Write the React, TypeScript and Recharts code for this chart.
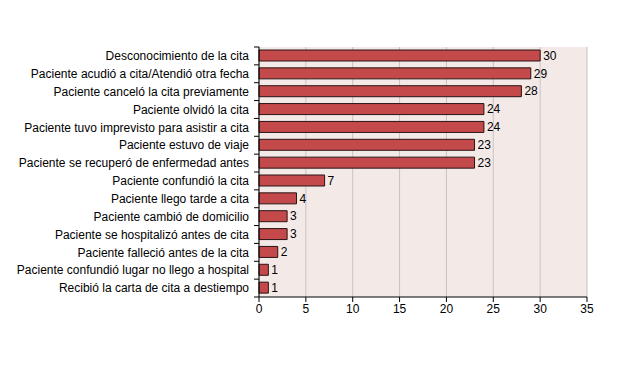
import React from 'react';
import { BarChart, Bar, XAxis, YAxis, CartesianGrid, LabelList } from 'recharts';

const categories = [
  'Desconocimiento de la cita',
  'Paciente acudió a cita/Atendió otra fecha',
  'Paciente canceló la cita previamente',
  'Paciente olvidó la cita',
  'Paciente tuvo imprevisto para asistir a cita',
  'Paciente estuvo de viaje',
  'Paciente se recuperó de enfermedad antes',
  'Paciente confundió la cita',
  'Paciente llego tarde a cita',
  'Paciente cambió de domicilio',
  'Paciente se hospitalizó antes de cita',
  'Paciente falleció antes de la cita',
  'Paciente confundió lugar no llego a hospital',
  'Recibió la carta de cita a destiempo',
];
const values = [30, 29, 28, 24, 24, 23, 23, 7, 4, 3, 3, 2, 1, 1];
const xTicks = [0, 5, 10, 15, 20, 25, 30, 35];

const data = categories.map((c, i) => ({ name: c, value: values[i] }));

const W = 620;
const H = 368;
const X_H = 30;
const M = { top: 47, right: 33, bottom: 71 - X_H, left: 0 };
const Y_W = 259;
const band = (H - M.top - M.bottom - X_H) / categories.length;
const FONT = 'Liberation Sans, Arial, Helvetica, sans-serif';

const CatTick = (props: any) => {
  const { x, y, payload, index } = props;
  const ax = x + 10;
  return (
    <g>
      <line x1={ax - 5} x2={ax} y1={y - band / 2} y2={y - band / 2} stroke="#000" strokeWidth={1} />
      {index === categories.length - 1 ? (
        <line x1={ax - 5} x2={ax} y1={y + band / 2} y2={y + band / 2} stroke="#000" strokeWidth={1} />
      ) : null}
      <text x={x} y={y} dy="0.35em" textAnchor="end" fontSize={12} fontFamily={FONT} fill="#000">
        {payload.value}
      </text>
    </g>
  );
};

export default function App() {
  return (
    <div style={{ position: 'absolute', left: 0, top: 0, background: '#fff' }}>
      <BarChart
        width={W}
        height={H}
        data={data}
        layout="vertical"
        margin={M}
        barSize={11}
      >
        <CartesianGrid
          horizontal={false}
          vertical={true}
          stroke="#c9c2c2"
          fill="#f3eae8"
          fillOpacity={1}
        />
        <XAxis
          type="number"
          domain={[0, 35]}
          ticks={xTicks}
          interval={0}
          height={X_H}
          stroke="#000"
          tickSize={5}
          tick={{ fontSize: 12, fill: '#000', fontFamily: FONT }}
        />
        <YAxis
          type="category"
          dataKey="name"
          width={Y_W}
          interval={0}
          stroke="#000"
          tickLine={false}
          tickSize={5}
          tickMargin={5}
          tick={<CatTick />}
        />
        <Bar dataKey="value" fill="#c4494b" stroke="#2a1414" strokeWidth={1} isAnimationActive={false}>
          <LabelList dataKey="value" position="right" offset={3} fontSize={12} fill="#000" fontFamily={FONT} />
        </Bar>
      </BarChart>
    </div>
  );
}
